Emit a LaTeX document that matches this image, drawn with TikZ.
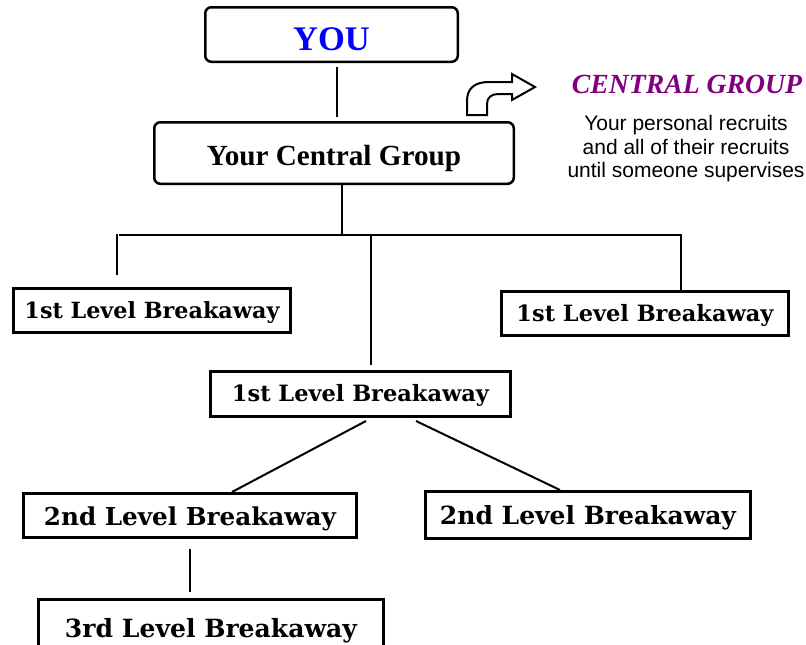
\documentclass[tikz,border=0pt]{standalone}
\usepackage{fontspec}
\setmainfont{Liberation Serif}
\newfontfamily\brkfont{DejaVu Serif}
\newfontfamily\arialfont{Liberation Sans}
\usetikzlibrary{calc}
\definecolor{cgpurple}{RGB}{128,0,128}
\definecolor{youblue}{RGB}{0,0,255}
\newcommand{\fitw}[2]{\resizebox{#1pt}{!}{#2}}
\begin{document}
\begin{tikzpicture}[x=1pt,y=-1pt,
  topbox/.style={draw, line width=2.5pt, rounded corners=6pt, inner sep=0pt},
  brkbox/.style={draw, line width=3pt, inner sep=0pt, font=\brkfont\bfseries},
  conn/.style={line width=2.5pt},
  diag/.style={line width=2pt}]
\useasboundingbox (0,0) rectangle (806,645);
\clip (0,0) rectangle (806,645);

% top boxes
\node[topbox, minimum width=252.5pt, minimum height=54.5pt,
      text height=31pt, text depth=0pt, text=youblue,
      font=\bfseries\fontsize{34.5}{36}\selectfont] (you) at (331.5,34.5) {YOU};
\node[topbox, minimum width=359.5pt, minimum height=61.5pt,
      text height=26pt, text depth=2pt,
      font=\bfseries\fontsize{29.2}{32}\selectfont] (central) at (334,153) {Your Central Group};

% breakaway boxes
\node[brkbox, minimum width=277pt, minimum height=44pt, text height=17pt, text depth=2pt]
  (b1L) at (152,310.5) {\fitw{255}{1st Level Breakaway}};
\node[brkbox, minimum width=287pt, minimum height=44pt, text height=17pt, text depth=2pt]
  (b1R) at (645,313.5) {\fitw{257}{1st Level Breakaway}};
\node[brkbox, minimum width=300pt, minimum height=45pt, text height=17pt, text depth=2pt]
  (b1M) at (360.5,394) {\fitw{257}{1st Level Breakaway}};
\node[brkbox, minimum width=333pt, minimum height=44pt, text height=21pt, text depth=2pt]
  (b2L) at (190,515.5) {\fitw{292}{2nd Level Breakaway}};
\node[brkbox, minimum width=325pt, minimum height=47pt, text height=21pt, text depth=2pt]
  (b2R) at (588,515) {\fitw{296}{2nd Level Breakaway}};
\node[brkbox, minimum width=345pt, minimum height=60pt, text height=17pt, text depth=2pt]
  (b3) at (211,629.5) {\fitw{292}{3rd Level Breakaway}};

% side text
\node[text=cgpurple, font=\bfseries\itshape\fontsize{27.7}{30}\selectfont]
  (cgtitle) at (687,84) {CENTRAL GROUP};
\node[align=center, inner sep=0pt, font=\arialfont\fontsize{21}{23.5}\selectfont]
  (cgdesc) at (686,149) {Your personal recruits\\and all of their recruits\\until someone supervises};

% bent arrow
\draw[line width=2pt, line join=miter, fill=white]
  (467,115) -- (467,101) .. controls (467,88) and (475,82) .. (489,82)
  -- (512,82) -- (512,74) -- (535,87) -- (512,100) -- (512,94) -- (498,94)
  .. controls (491,94) and (487,98) .. (487,104) -- (487,115) -- cycle;

% connectors
\coordinate (jc) at (342,235);
\coordinate (jl) at (117,235);
\coordinate (jm) at (371,235);
\coordinate (jr) at (681,235);
\draw[conn] ($(you.south)+(5.5,4)$) -- ($(central.north)+(3,-4)$);
\draw[conn] ($(central.south)+(8,0)$) -- (jc);
\draw[conn] ($(jl)+(2,0)$) -- (jr);
\draw[conn] ($(jl)+(0,-1.25)$) -- ($(jl |- b1L.north)+(0,-12)$);
\draw[conn] (jm) -- ($(jm |- b1M.north)+(0,-5)$);
\draw[conn] ($(jr)+(0,-1.25)$) -- (jr |- b1R.north);
\draw[diag] ($(b1M.south)+(5.5,3)$) -- ($(b2L.north)+(42,0)$);
\draw[diag] ($(b1M.south)+(55.5,3)$) -- ($(b2R.north)+(-28,0)$);
\draw[conn] ($(b2L.south)+(0,10)$) -- ($(b3.north)+(-21,-6)$);
\end{tikzpicture}
\end{document}
